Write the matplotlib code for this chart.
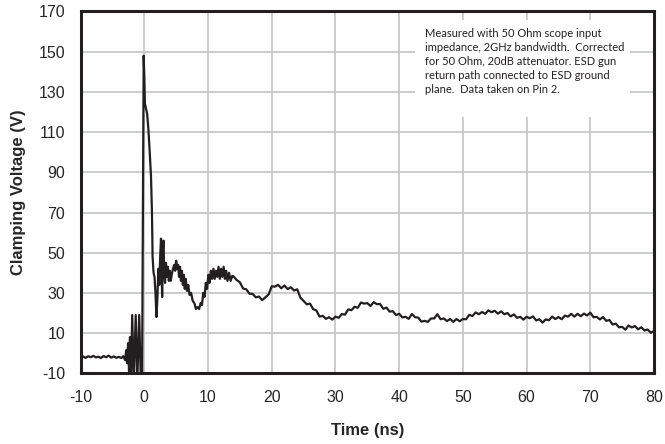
import numpy as np
import matplotlib
matplotlib.use("Agg")
import matplotlib.pyplot as plt
from matplotlib.patches import Rectangle

# ---------------- DATA (read off the scope capture) ---------------- #
# before the ESD pulse: flat baseline
pre_t = [-10, -9.6, -9.2, -8.8, -8.4, -8.0, -7.6, -7.2, -6.8, -6.4, -6.0, -5.6,
         -5.2, -4.8, -4.4, -4.0, -3.6, -3.3]
pre_v = [-2.2, -1.6, -2.3, -1.5, -2.0, -1.3, -2.1, -1.7, -2.4, -1.4, -2.0, -1.2,
         -2.2, -1.6, -2.3, -1.8, -2.4, -1.5]

# ringing, main spike and first ~14 ns of the discharge
pulse_t = [-3.0, -2.85, -2.7, -2.55, -2.4, -2.25, -2.1, -1.9, -1.65, -1.35, -1.1, -0.8,
           -0.55, -0.35, -0.1, 0.0, 0.1, 0.25, 0.45, 0.65, 0.85, 1.05, 1.2, 1.3,
           1.45, 1.6, 1.75, 1.9, 2.05, 2.2, 2.35, 2.5, 2.62, 2.72, 2.8, 2.92,
           3.02, 3.12, 3.25, 3.4, 3.55, 3.7, 3.85, 4.0, 4.15, 4.3, 4.5, 4.7,
           4.85, 5.0, 5.15, 5.3, 5.45, 5.6, 5.75, 5.9, 6.05, 6.2, 6.35, 6.5,
           6.7, 6.9, 7.1, 7.35, 7.6, 7.85, 8.1, 8.35, 8.6, 8.85, 9.05, 9.25,
           9.45, 9.65, 9.85, 10.05, 10.25, 10.45, 10.65, 10.85, 11.05, 11.25, 11.45, 11.65,
           11.85, 12.05, 12.25, 12.45, 12.65, 12.85, 13.05, 13.3, 13.55, 13.8]
pulse_v = [-3.5, 1.5, -5, 5, -9, 8, -14, 19, -14, 19, -14, 19,
           -14, -13, 148, 138, 124, 122, 119, 111, 100, 88, 70, 48,
           40, 38, 30, 18, 27, 42, 34, 49, 57, 40, 28, 52,
           56, 41, 35, 45, 38, 43, 36, 41, 36, 39, 42, 44,
           41, 46, 42, 44, 38, 43, 36, 41, 34, 39, 32, 37,
           31, 34, 29, 30, 26, 25, 22, 23, 22, 25, 24, 30,
           28, 35, 32, 39, 35, 41, 37, 42, 37, 41, 38, 43,
           37, 42, 38, 43, 37, 41, 36, 40, 36, 38.5]

# slow decay, 14 ns to 80 ns
tail_t = list(np.arange(14.0, 80.5, 0.5))
tail_v = [38.2, 36.4, 35.3, 32.2, 31.8, 29.6, 29.5, 27.8, 28.2, 26.4, 27.8, 29.2,
          33.3, 33.1, 34.0, 32.3, 33.7, 31.9, 32.8, 31.2, 31.8, 27.6, 26.0, 24.3,
          24.7, 21.9, 21.3, 18.2, 18.6, 17.1, 17.9, 16.7, 18.2, 17.6, 19.5, 19.2,
          21.8, 21.4, 23.1, 22.6, 25.2, 24.7, 24.9, 23.5, 25.4, 24.4, 24.5, 22.1,
          22.7, 20.7, 20.9, 19.0, 19.6, 17.8, 18.1, 17.1, 19.5, 17.9, 17.7, 15.7,
          16.1, 15.6, 17.3, 17.3, 19.4, 16.9, 17.3, 16.0, 17.0, 15.6, 17.0, 15.9,
          17.0, 16.9, 19.1, 18.5, 20.3, 19.4, 20.5, 19.6, 21.3, 20.4, 21.1, 19.7,
          20.8, 19.4, 20.0, 18.3, 19.3, 17.6, 18.1, 16.7, 18.1, 17.4, 18.3, 16.3,
          16.9, 15.2, 16.8, 16.4, 18.2, 17.0, 18.0, 16.9, 18.7, 18.2, 19.6, 18.2,
          19.6, 18.4, 19.7, 18.8, 20.2, 17.9, 18.1, 16.8, 18.0, 16.1, 16.5, 14.3,
          14.7, 12.9, 13.1, 11.7, 13.8, 12.8, 13.5, 11.9, 12.9, 11.3, 11.8, 10.2,
          11.1]

time_ns = np.array(pre_t + pulse_t + tail_t)
clamp_v = np.array(pre_v + pulse_v + tail_v)

x_ticks = list(range(-10, 81, 10))
y_ticks = list(range(-10, 171, 20))

note = ("Measured with 50 Ohm scope input\n"
        "impedance, 2GHz bandwidth.  Corrected\n"
        "for 50 Ohm, 20dB attenuator. ESD gun\n"
        "return path connected to ESD ground\n"
        "plane.  Data taken on Pin 2.")

# ---------------- PLOT ---------------- #
plt.rcParams["font.family"] = ["Liberation Sans", "DejaVu Sans"]
plt.rcParams["axes.unicode_minus"] = False

fig = plt.figure(figsize=(6.65, 4.44), dpi=100)
ax = fig.add_axes([0.1212, 0.1592, 0.8623, 0.8149])

ax.plot(time_ns, clamp_v, color="#231f20", linewidth=1.6, zorder=3)

ax.set_xlim(-10, 80)
ax.set_ylim(-10, 170)
ax.set_xticks(x_ticks)
ax.set_yticks(y_ticks)
ax.grid(True, color="#c8c8c8", linewidth=1.3)
ax.set_axisbelow(True)
ax.tick_params(length=0, labelsize=11.5, labelcolor="#262626")
ax.tick_params(axis="x", pad=12)
ax.tick_params(axis="y", pad=11)

for s in ax.spines.values():
    s.set_linewidth(2.2)
    s.set_color("#231f20")

ax.set_xlabel("Time (ns)", fontsize=12, fontweight="bold", color="#262626", labelpad=13)
ax.set_ylabel("Clamping Voltage (V)", fontsize=12, fontweight="bold", color="#262626", labelpad=9)

# white note box over the grid
ax.add_patch(Rectangle((0.583, 0.708), 0.375, 0.269, transform=ax.transAxes,
                       facecolor="white", edgecolor="none", zorder=2))
ax.text(0.6, 0.955, note, transform=ax.transAxes, fontsize=8, va="top", ha="left",
        family=["Lato", "DejaVu Sans"], color="#231f20", linespacing=1.35, zorder=4)

fig.savefig("out.png", dpi=100)
